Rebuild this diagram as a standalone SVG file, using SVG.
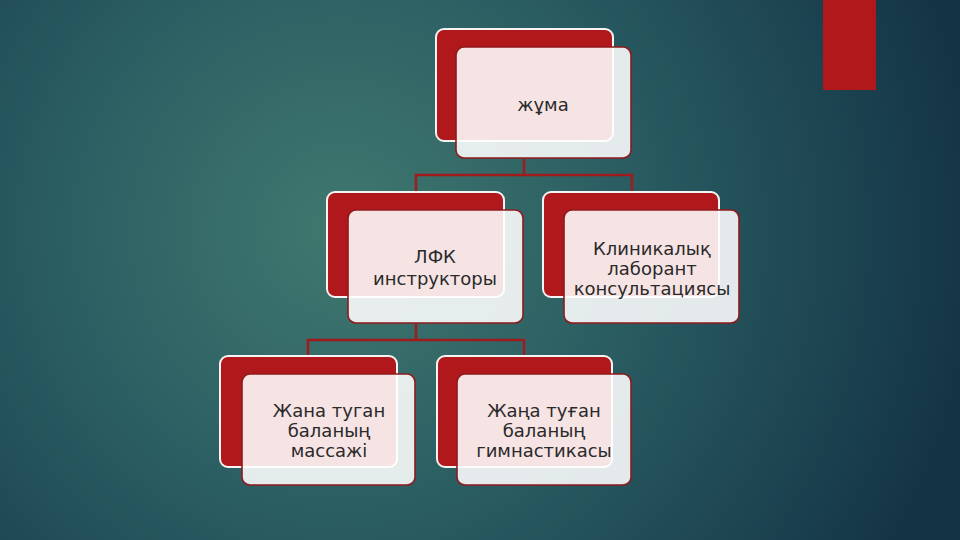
<svg xmlns="http://www.w3.org/2000/svg" width="960" height="540" viewBox="0 0 960 540">
<defs>
<radialGradient id="bg" cx="340" cy="230" r="640" gradientUnits="userSpaceOnUse">
<stop offset="0" stop-color="#40786f"/>
<stop offset="0.45" stop-color="#2a5d62"/>
<stop offset="1" stop-color="#143446"/>
</radialGradient>
<style>
.back{fill:#b0181b;stroke:#f4f4f4;stroke-width:2}
.front{fill:#ffffff;fill-opacity:0.88;stroke:#8e1a1c;stroke-width:1.6}
.lbl{font-family:"DejaVu Sans","Liberation Sans",sans-serif;font-size:18px;fill:#2a2a2a;text-anchor:middle}
.conn{fill:none;stroke:#a11a1c;stroke-width:2.5}
</style>
</defs>
<rect width="960" height="540" fill="url(#bg)"/>
<rect x="823" y="0" width="53" height="90" fill="#b0181b"/>
<g id="connectors">
<path class="conn" d="M524 159 V175 M416 192 V175 H632 V192"/>
<path class="conn" d="M416 324 V340 M308 356 V340 H524 V356"/>
</g>
<g id="n-zhuma">
<rect class="back" x="436" y="29" width="177" height="112" rx="8"/>
<rect class="front" x="456" y="47" width="175" height="111" rx="8"/>
<text class="lbl" x="543" y="111">жұма</text>
</g>
<g id="n-lfk">
<rect class="back" x="327" y="192" width="177" height="105" rx="8"/>
<rect class="front" x="348" y="210" width="175" height="113" rx="8"/>
<text class="lbl" x="435" y="263">ЛФК</text>
<text class="lbl" x="435" y="285">инструкторы</text>
</g>
<g id="n-klin">
<rect class="back" x="543" y="192" width="176" height="105" rx="8"/>
<rect class="front" x="564" y="210" width="175" height="113" rx="8"/>
<text class="lbl" x="652" y="255">Клиникалық</text>
<text class="lbl" x="652" y="275">лаборант</text>
<text class="lbl" x="652" y="295">консультациясы</text>
</g>
<g id="n-massazh">
<rect class="back" x="220" y="356" width="177" height="111" rx="8"/>
<rect class="front" x="242" y="374" width="173" height="111" rx="8"/>
<text class="lbl" x="329" y="417">Жана туган</text>
<text class="lbl" x="329" y="437">баланың</text>
<text class="lbl" x="329" y="457">массажі</text>
</g>
<g id="n-gimn">
<rect class="back" x="437" y="356" width="175" height="111" rx="8"/>
<rect class="front" x="457" y="374" width="174" height="111" rx="8"/>
<text class="lbl" x="544" y="417">Жаңа туған</text>
<text class="lbl" x="544" y="437">баланың</text>
<text class="lbl" x="544" y="457">гимнастикасы</text>
</g>
</svg>
